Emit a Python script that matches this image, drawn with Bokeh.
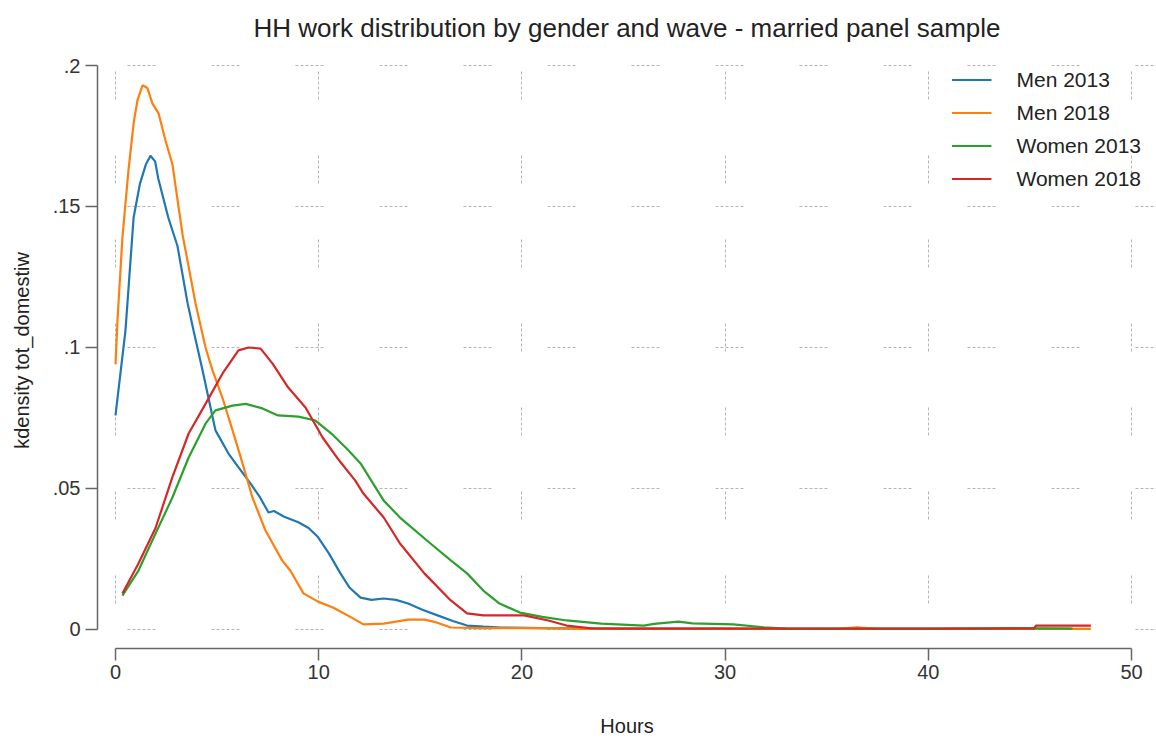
from bokeh.plotting import figure
from bokeh.models import Range1d, FixedTicker
from bokeh.embed import file_html
from bokeh.resources import INLINE

# ---------------- data ----------------
men2013_x = [0, 0.49, 0.89, 1.2, 1.5, 1.72, 1.95, 2.1, 2.6, 3.05, 3.54, 3.84, 4.28, 4.92, 5.56, 6.0,
             6.64, 7.1, 7.53, 7.8, 8.3, 9.0, 9.5, 9.94, 10.5, 11.07, 11.5, 12.06, 12.6, 13.2, 13.8,
             14.4, 15.1, 15.85, 16.6, 17.3, 18.1, 19.0, 21.0, 25.0, 30.0, 35.0, 40.0, 45.0, 47.0]
men2013_y = [0.0759, 0.106, 0.146, 0.158, 0.165, 0.168, 0.166, 0.160, 0.146, 0.136, 0.116, 0.106,
             0.092, 0.0706, 0.0624, 0.058, 0.0518, 0.047, 0.0415, 0.042, 0.040, 0.038, 0.036, 0.033,
             0.027, 0.0199, 0.015, 0.0113, 0.0105, 0.011, 0.0105, 0.0092, 0.007, 0.005, 0.003, 0.0014,
             0.001, 0.0007, 0.0005, 0.0003, 0.0003, 0.0002, 0.0002, 0.0002, 0.0002]

men2018_x = [0, 0.1, 0.34, 0.64, 0.9, 1.08, 1.33, 1.57, 1.82, 2.12, 2.46, 2.8, 3.1, 3.3, 3.94, 4.43,
             4.77, 5.27, 5.76, 6.25, 6.74, 7.38, 8.2, 8.6, 9.25, 9.99, 10.7, 11.6, 12.2, 13.2, 14.4,
             15.2, 15.8, 16.5, 18.0, 20.0, 22.0, 23.0, 25.0, 30.0, 35.5, 36.5, 37.5, 40.0, 45.0, 48.0]
men2018_y = [0.094, 0.110, 0.139, 0.163, 0.180, 0.1876, 0.193, 0.192, 0.1865, 0.183, 0.1734, 0.165,
             0.150, 0.140, 0.1156, 0.100, 0.092, 0.082, 0.0706, 0.0589, 0.0468, 0.0351, 0.0245,
             0.0209, 0.0128, 0.0098, 0.0078, 0.0043, 0.0018, 0.0021, 0.0035, 0.0035, 0.0025, 0.0007,
             0.0005, 0.0005, 0.0004, 0.0002, 0.0002, 0.0002, 0.0002, 0.0008, 0.0002, 0.0002, 0.0002,
             0.0002]

women2013_x = [0.34, 1.13, 1.97, 2.8, 3.6, 4.43, 4.92, 5.76, 6.4, 7.23, 8.0, 9.0, 9.84, 10.7, 11.4,
               12.06, 13.2, 14.0, 15.5, 16.5, 17.3, 18.1, 18.9, 19.9, 21.0, 22.2, 23.9, 26.0, 26.5,
               27.7, 28.4, 30.4, 31.9, 33.0, 35.0, 40.0, 43.0, 45.0, 47.1]
women2013_y = [0.012, 0.0209, 0.034, 0.0468, 0.061, 0.073, 0.0777, 0.0794, 0.080, 0.0784, 0.0759,
               0.0755, 0.0741, 0.069, 0.064, 0.0589, 0.0457, 0.0397, 0.0305, 0.0245, 0.0199, 0.0138,
               0.0092, 0.006, 0.0045, 0.0032, 0.0021, 0.0014, 0.002, 0.0028, 0.0022, 0.0018, 0.0008,
               0.0003, 0.0002, 0.0002, 0.0003, 0.0004, 0.0003]

women2018_x = [0.34, 1.13, 1.97, 2.8, 3.6, 4.43, 5.27, 6.05, 6.55, 7.14, 7.73, 8.5, 9.35, 10.2, 11.0,
               11.8, 12.2, 13.2, 14.0, 15.2, 16.5, 17.3, 18.1, 20.1, 21.3, 22.2, 23.4, 25.0, 30.0,
               35.0, 40.0, 45.2, 45.3, 48.0]
women2018_y = [0.0128, 0.0234, 0.036, 0.054, 0.0695, 0.080, 0.0908, 0.099, 0.100, 0.0996, 0.0943,
               0.0858, 0.0787, 0.068, 0.060, 0.0528, 0.0482, 0.0397, 0.0305, 0.0199, 0.0103, 0.0057,
               0.005, 0.005, 0.0032, 0.0014, 0.0004, 0.0003, 0.0003, 0.0003, 0.0003, 0.0004, 0.0014,
               0.0014]

series_names = ["Men 2013", "Men 2018", "Women 2013", "Women 2018"]
series_colors = ["#1f77b4", "#ff7f0e", "#2ca02c", "#d62728"]

x_ticks = [0, 10, 20, 30, 40, 50]
y_ticks = [0, 0.05, 0.1, 0.15, 0.2]
y_tick_labels = ["0", ".05", ".1", ".15", ".2"]

title_text = "HH work distribution by gender and wave - married panel sample"
x_label = "Hours"
y_label = "kdensity tot_domestiw"

# ---------------- figure ----------------
FONT = "Liberation Sans"
p = figure(width=1156, height=742, output_backend="svg", toolbar_location=None,
           x_range=Range1d(-0.886, 51.23), y_range=Range1d(-0.00674, 0.20461),
           min_border_left=97, min_border_right=0, min_border_top=0, min_border_bottom=94,
           title=title_text)
p.outline_line_color = None
p.background_fill_color = "white"
p.border_fill_color = "white"

p.title.align = "center"
p.title.text_font = FONT
p.title.text_font_size = "26px"
p.title.text_font_style = "normal"
p.title.text_color = "#222222"
p.title.standoff = 20

xs = [men2013_x, men2018_x, women2013_x, women2018_x]
ys = [men2013_y, men2018_y, women2013_y, women2018_y]
for xv, yv, name, col in zip(xs, ys, series_names, series_colors):
    p.line(xv, yv, line_color=col, line_width=2.2, legend_label=name)

# axes
for ax in (p.xaxis, p.yaxis):
    ax.axis_line_color = "#666666"
    ax.axis_line_width = 1.5
    ax.major_tick_line_color = "#666666"
    ax.major_tick_line_width = 1.5
    ax.major_tick_out = 12
    ax.major_tick_in = 0
    ax.minor_tick_line_color = None
    ax.major_label_text_font = FONT
    ax.major_label_text_font_size = "20px"
    ax.major_label_text_color = "#333333"
    ax.axis_label_text_font = FONT
    ax.axis_label_text_font_size = "20px"
    ax.axis_label_text_font_style = "normal"
    ax.axis_label_text_color = "#222222"

p.xaxis.ticker = FixedTicker(ticks=x_ticks)
p.xaxis.bounds = (x_ticks[0], x_ticks[-1])
p.xaxis.major_label_standoff = 4
p.xaxis.axis_label = x_label
p.xaxis.axis_label_standoff = 33

p.yaxis.ticker = FixedTicker(ticks=y_ticks)
p.yaxis.bounds = (y_ticks[0], y_ticks[-1])
p.yaxis.major_label_overrides = {t: l for t, l in zip(y_ticks, y_tick_labels)}
p.yaxis.major_label_orientation = "horizontal"
p.yaxis.major_label_standoff = 5
p.yaxis.axis_label = y_label
p.yaxis.axis_label_standoff = 17

# grids: Stata-like sparse dashed segments
dash = "3 2 3 2 3 2 3 2 3 2 3 56"
p.xgrid.ticker = FixedTicker(ticks=x_ticks)
p.ygrid.ticker = FixedTicker(ticks=y_ticks)
p.xgrid.grid_line_color = "#b5b5b5"
p.ygrid.grid_line_color = "#b5b5b5"
p.xgrid.grid_line_width = 1
p.ygrid.grid_line_width = 1
p.xgrid.grid_line_dash = dash
p.ygrid.grid_line_dash = dash
p.xgrid.grid_line_dash_offset = 39
p.ygrid.grid_line_dash_offset = 54

# legend
lg = p.legend[0]
lg.location = "top_right"
lg.border_line_color = None
lg.background_fill_alpha = 0
lg.label_text_font = FONT
lg.label_text_font_size = "21px"
lg.label_text_color = "#222222"
lg.glyph_width = 40
lg.glyph_height = 25
lg.label_height = 25
lg.label_standoff = 25
lg.spacing = 8
lg.padding = 0
lg.margin = 15

open("out.html", "w").write(file_html(p, INLINE))
